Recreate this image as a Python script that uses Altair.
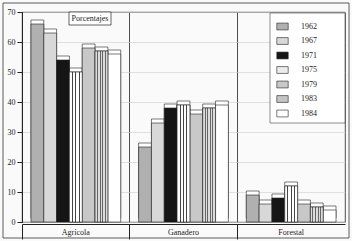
import altair as alt
import pandas as pd

categories = ["Agrícola", "Ganadero", "Forestal"]
years = ["1962", "1967", "1971", "1975", "1979", "1983", "1984"]
agricola = [66, 63, 54, 50, 58, 57, 56]
ganadero = [25, 33, 38, 39, 36, 38, 39]
forestal = [9, 6, 8, 12, 6, 5, 4]
fills = ["#b0b0b0", "#d8d8d8", "#151515", "#ececec", "#c8c8c8", "#c4c4c4", "#ffffff"]

rows = []
for cat, vals in zip(categories, [agricola, ganadero, forestal]):
    for y, v in zip(years, vals):
        rows.append({"sector": cat, "year": y, "value": v})
df = pd.DataFrame(rows)

FONT = "Liberation Serif"


def stripes(bg, fg, centers, half):
    stops = [alt.GradientStop(offset=0, color=bg)]
    for c in centers:
        stops += [alt.GradientStop(offset=c - half, color=bg),
                  alt.GradientStop(offset=c - half, color=fg),
                  alt.GradientStop(offset=c + half, color=fg),
                  alt.GradientStop(offset=c + half, color=bg)]
    stops.append(alt.GradientStop(offset=1, color=bg))
    return alt.LinearGradient(gradient="linear", x1=0, x2=1, y1=0, y2=0, stops=stops)


x = alt.X("sector:N", sort=categories,
          scale=alt.Scale(paddingInner=0, paddingOuter=0),
          axis=alt.Axis(title=None, labelAngle=0, bandPosition=0, grid=True,
                        gridColor="#222", gridWidth=0.8, domainColor="#222",
                        tickColor="#222", tickSize=15, labelPadding=-11,
                        labelFont=FONT, labelFontSize=8, labelColor="#222",
                        offset=2, labelAlign="center"))
xo = alt.XOffset("year:N", sort=years, scale=alt.Scale(paddingInner=0, paddingOuter=0.7))
y = alt.Y("value:Q", scale=alt.Scale(domain=[0, 70], nice=False),
          axis=alt.Axis(title=None, values=list(range(0, 71, 10)), grid=True,
                        gridColor="#cfcfcf", gridWidth=0.6, domainColor="#222",
                        tickColor="#222", tickSize=5, labelFont=FONT, labelFontSize=8,
                        labelColor="#222", labelPadding=2))

base = alt.Chart(df)

back = base.mark_bar(xOffset=4, yOffset=-4, fill="white", stroke="#222",
                     strokeWidth=0.6).encode(x=x, xOffset=xo, y=y)
front = base.mark_bar(stroke="#222", strokeWidth=0.6).encode(
    x=x, xOffset=xo, y=y,
    fill=alt.Fill("year:N", sort=years, scale=alt.Scale(domain=years, range=fills),
                  legend=alt.Legend(title=None, orient="none", legendX=254, legendY=8,
                                    symbolType="M-1,-0.6H1V0.6H-1Z", symbolSize=130,
                                    symbolStrokeColor="#222", symbolStrokeWidth=0.6,
                                    labelFont=FONT, labelFontSize=8, labelColor="#222",
                                    rowPadding=2.5, labelOffset=12, padding=0)))

s1975 = base.transform_filter(alt.datum.year == "1975").mark_bar(
    stroke="#222", strokeWidth=0.6,
    fill=stripes("#ffffff", "#444444", [0.25, 0.5, 0.75], 0.04)).encode(x=x, xOffset=xo, y=y)
s1983 = base.transform_filter(alt.datum.year == "1983").mark_bar(
    stroke="#222", strokeWidth=0.6,
    fill=stripes("#dcdcdc", "#666666", [0.2, 0.4, 0.6, 0.8], 0.04)).encode(x=x, xOffset=xo, y=y)

legend_box = alt.Chart(pd.DataFrame({"a": [0]})).mark_rect(
    fill="white", stroke="#444", strokeWidth=0.6).encode(
    x=alt.value(248), x2=alt.value(323), y=alt.value(1), y2=alt.value(111))

label_box = alt.Chart(pd.DataFrame({"a": [0]})).mark_rect(
    fill="white", stroke="#222", strokeWidth=0.7).encode(
    x=alt.value(47), x2=alt.value(89), y=alt.value(0), y2=alt.value(13))
label_text = alt.Chart(pd.DataFrame({"t": ["Porcentajes"]})).mark_text(
    font=FONT, fontSize=8, color="#222").encode(
    x=alt.value(68), y=alt.value(7), text="t:N")

frame = alt.Chart(pd.DataFrame({"a": [0]})).mark_rect(
    fill=None, stroke="#333", strokeWidth=0.8).encode(
    x=alt.value(-19), x2=alt.value(327), y=alt.value(-9), y2=alt.value(226))

chart = alt.layer(frame, legend_box, back, front, s1975, s1983, label_box, label_text).properties(
    width=323, height=210,
    autosize=alt.AutoSizeParams(type="none"),
    padding={"left": 22, "top": 12, "right": 7, "bottom": 19},
    background="#fafafa",
).configure_view(stroke="#222", strokeWidth=0.8)

chart.save("out.html", embed_options={"renderer": "svg", "actions": False})
